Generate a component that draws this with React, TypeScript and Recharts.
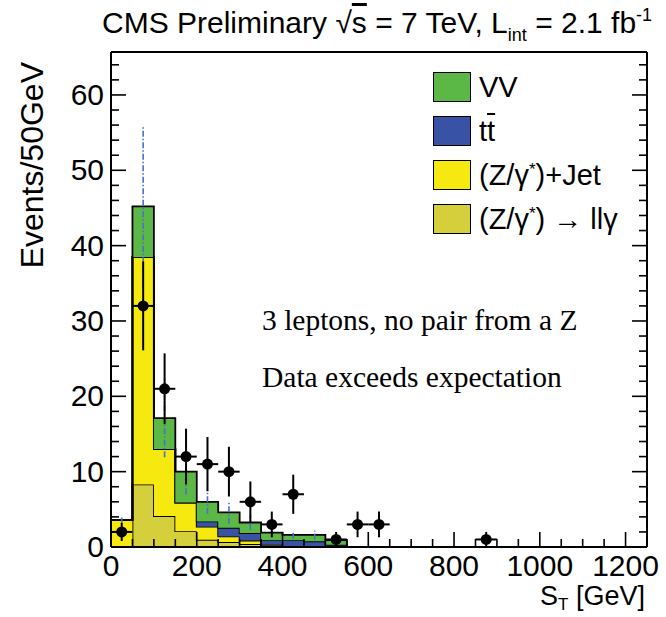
import React from "react"
import { ComposedChart, Area, Scatter, ErrorBar, XAxis, YAxis, Legend } from "recharts"

// 50 GeV bins, low edges (last entry closes the histogram)
const binEdges = [0, 50, 100, 150, 200, 250, 300, 350, 400, 450, 500, 550]

// stacked backgrounds, bottom to top
const llgamma = [0, 8.3, 4.1, 2.1, 0.95, 0.65, 0.4, 0.1, 0, 0, 0]
const zjets = [3.6, 30.2, 8.9, 3.8, 1.75, 0.75, 0.45, 0.2, 0.1, 0.05, 0]
const ttbar = [0, 0, 0, 0, 0.7, 1.15, 1.0, 0.6, 0.8, 0.7, 0.3]
const diboson = [0, 6.7, 4.1, 4.1, 2.6, 2.05, 1.4, 1.0, 0.7, 0.85, 0.6]
const mcErr = [0.5, 10.6, 5.2, 3.0, 1.6, 1.5, 1.0, 0.6, 0.5, 0.6, 0.4]

// observed events
const dataX = [25, 75, 125, 175, 225, 275, 325, 375, 425, 525, 575, 625, 875]
const dataY = [2, 32, 21, 12, 11, 10, 6, 3, 7, 1, 3, 3, 1]
const dataErr = [1.2, 5.9, 4.7, 3.7, 3.6, 3.3, 2.7, 1.7, 2.6, 1.0, 1.7, 1.7, 1.0]

const xTicks = [0, 50, 100, 150, 200, 250, 300, 350, 400, 450, 500, 550, 600, 650, 700, 750, 800, 850, 900, 950, 1000, 1050, 1100, 1150, 1200]
const yTicks = [0, 2, 4, 6, 8, 10, 12, 14, 16, 18, 20, 22, 24, 26, 28, 30, 32, 34, 36, 38, 40, 42, 44, 46, 48, 50, 52, 54, 56, 58, 60, 62, 64]

const colors = { vv: "#5cb846", tt: "#3852a6", zj: "#f5e90f", llg: "#d5cf3c" }

const sans = "'Liberation Sans', Arial, Helvetica, sans-serif"
const serif = "'Liberation Serif', 'Times New Roman', serif"

const histTable = binEdges.map((x, i) => ({
  x,
  llgamma: llgamma[i] ?? 0,
  zjets: zjets[i] ?? 0,
  ttbar: ttbar[i] ?? 0,
  diboson: diboson[i] ?? 0,
}))

const mcTotal = binEdges.slice(0, -1).map((lo, i) => ({
  x: lo + 25,
  y: llgamma[i] + zjets[i] + ttbar[i] + diboson[i],
  err: mcErr[i],
}))

const points = dataX.map((x, i) => ({ x, y: dataY[i], err: dataErr[i], xerr: 25 }))

const MAJOR = 15
const MINOR = 8
const frame = { stroke: "#000", strokeWidth: 2 }

const BottomTick = ({ x, y, payload }: any) => {
  const v = payload.value
  const major = v % 200 === 0
  return (
    <g>
      <line x1={x} x2={x} y1={y} y2={y - (major ? MAJOR : MINOR)} stroke="#000" strokeWidth={1.6} />
      {major && (
        <text x={x} y={y + 29} textAnchor="middle" fontSize={30} fontFamily={sans} fill="#000">
          {v}
        </text>
      )}
    </g>
  )
}

const TopTick = ({ x, y, payload }: any) => {
  const major = payload.value % 200 === 0
  return <line x1={x} x2={x} y1={y} y2={y + (major ? MAJOR : MINOR)} stroke="#000" strokeWidth={1.6} />
}

const LeftTick = ({ x, y, payload }: any) => {
  const v = payload.value
  const major = v % 10 === 0
  return (
    <g>
      <line x1={x} x2={x + (major ? MAJOR : MINOR)} y1={y} y2={y} stroke="#000" strokeWidth={1.6} />
      {major && (
        <text x={x - 7} y={y + 10} textAnchor="end" fontSize={30} fontFamily={sans} fill="#000">
          {v}
        </text>
      )}
    </g>
  )
}

const RightTick = ({ x, y, payload }: any) => {
  const major = payload.value % 10 === 0
  return <line x1={x} x2={x - (major ? MAJOR : MINOR)} y1={y} y2={y} stroke="#000" strokeWidth={1.6} />
}

const Star = () => <span style={{ fontSize: 17, verticalAlign: 10 }}>*</span>

const legendItems = [
  { color: colors.vv, label: <>VV</> },
  { color: colors.tt, label: <>t<span style={{ textDecoration: "overline" }}>t</span></> },
  { color: colors.zj, label: <>(Z/γ<Star />)+Jet</> },
  { color: colors.llg, label: <>(Z/γ<Star />) → llγ</> },
]

const LegendBox = () => (
  <div style={{ fontFamily: sans, fontSize: 29, color: "#000" }}>
    {legendItems.map((it, i) => (
      <div key={i} style={{ display: "flex", alignItems: "center", height: 44 }}>
        <div style={{ width: 36, height: 28, background: it.color, border: "1.5px solid #000", marginRight: 8 }} />
        <span style={{ whiteSpace: "nowrap" }}>{it.label}</span>
      </div>
    ))}
  </div>
)

const Marker = (p: any) => <circle cx={p.cx} cy={p.cy} r={5.5} fill="#000" />
const NoMarker = () => <g />

export default function App() {
  return (
    <div style={{ position: "absolute", left: 0, top: 0, width: 666, height: 617, background: "#fff" }}>
      <ComposedChart width={666} height={617} data={histTable} margin={{ top: 51, right: 18, bottom: 69, left: 110 }}>
        <XAxis
          dataKey="x"
          type="number"
          domain={[0, 1250]}
          allowDataOverflow
          ticks={xTicks}
          interval={0}
          height={1}
          tickSize={0}
          tickMargin={0}
          tick={<BottomTick />}
          axisLine={frame}
        />
        <XAxis
          xAxisId="top"
          orientation="top"
          type="number"
          domain={[0, 1250]}
          allowDataOverflow
          ticks={xTicks}
          interval={0}
          height={1}
          tickSize={0}
          tickMargin={0}
          tick={<TopTick />}
          axisLine={frame}
        />
        <YAxis
          type="number"
          domain={[0, 65.7]}
          allowDataOverflow
          ticks={yTicks}
          interval={0}
          width={1}
          tickSize={0}
          tickMargin={0}
          tick={<LeftTick />}
          axisLine={frame}
        />
        <YAxis
          yAxisId="right"
          orientation="right"
          type="number"
          domain={[0, 65.7]}
          allowDataOverflow
          ticks={yTicks}
          interval={0}
          width={1}
          tickSize={0}
          tickMargin={0}
          tick={<RightTick />}
          axisLine={frame}
        />
        <Area type="stepAfter" dataKey="llgamma" stackId="mc" fill={colors.llg} fillOpacity={1} stroke="#000" strokeWidth={1.8} dot={false} activeDot={false} isAnimationActive={false} />
        <Area type="stepAfter" dataKey="zjets" stackId="mc" fill={colors.zj} fillOpacity={1} stroke="#000" strokeWidth={1.8} dot={false} activeDot={false} isAnimationActive={false} />
        <Area type="stepAfter" dataKey="ttbar" stackId="mc" fill={colors.tt} fillOpacity={1} stroke="#000" strokeWidth={1.8} dot={false} activeDot={false} isAnimationActive={false} />
        <Area type="stepAfter" dataKey="diboson" stackId="mc" fill={colors.vv} fillOpacity={1} stroke="#000" strokeWidth={1.8} dot={false} activeDot={false} isAnimationActive={false} />
        <Scatter data={mcTotal} dataKey="y" shape={<NoMarker />} isAnimationActive={false}>
          <ErrorBar dataKey="err" direction="y" width={0} stroke="#4a6fd2" strokeWidth={1.6} strokeDasharray="6 2 1.5 2" />
        </Scatter>
        <Scatter data={points} dataKey="y" shape={<Marker />} isAnimationActive={false}>
          <ErrorBar dataKey="err" direction="y" width={0} stroke="#000" strokeWidth={2} />
          <ErrorBar dataKey="xerr" direction="x" width={0} stroke="#000" strokeWidth={2} />
        </Scatter>
        <Legend
          layout="vertical"
          align="center"
          verticalAlign="middle"
          wrapperStyle={{ position: "absolute", left: 433, top: 65, width: 225 }}
          content={() => <LegendBox />}
        />
      </ComposedChart>
      <svg width={666} height={617} style={{ position: "absolute", left: 0, top: 0, pointerEvents: "none" }}>
        <text x={102} y={33} fontSize={30} fontFamily={sans} fill="#000">
          CMS Preliminary <tspan>√</tspan>
          <tspan textDecoration="overline">s</tspan> = 7 TeV, L
          <tspan dy={8} fontSize={18}>int</tspan>
          <tspan dy={-8}> = 2.1 fb</tspan>
          <tspan dy={-12} fontSize={18}>-1</tspan>
        </text>
        <text transform="translate(43,62) rotate(-90)" textAnchor="end" fontSize={32} fontFamily={sans} fill="#000">
          Events/50GeV
        </text>
        <text x={645} y={605} textAnchor="end" fontSize={27} fontFamily={sans} fill="#000">
          S<tspan dy={5} fontSize={17}>T</tspan>
          <tspan dy={-5}> [GeV]</tspan>
        </text>
        <text x={262} y={330} fontSize={29.5} fontFamily={serif} fill="#000">
          3 leptons, no pair from a Z
        </text>
        <text x={262} y={387} fontSize={29.5} fontFamily={serif} fill="#000">
          Data exceeds expectation
        </text>
      </svg>
    </div>
  )
}
